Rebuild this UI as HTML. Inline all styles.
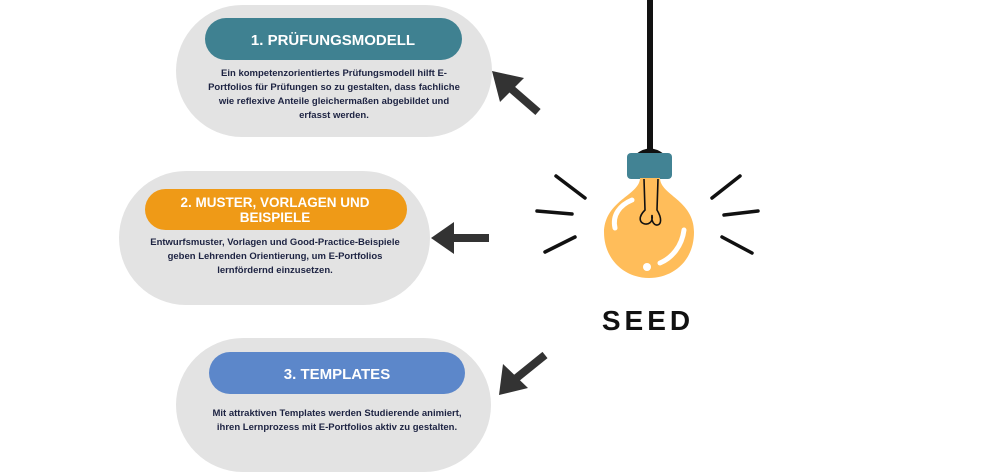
<!DOCTYPE html>
<html><head><meta charset="utf-8"><style>
html,body{margin:0;padding:0;background:#fff;}
svg{display:block;}
.h{font-family:"Liberation Sans",sans-serif;font-weight:bold;fill:#fff;text-anchor:middle;}
.t{font-family:"Liberation Sans",sans-serif;font-weight:bold;fill:#1d2342;text-anchor:middle;font-size:9.5px;}
</style></head><body>
<svg width="1000" height="476" viewBox="0 0 1000 476">
<rect x="176" y="5" width="316" height="132" rx="66" fill="#e3e3e3"/>
<rect x="205" y="18" width="257" height="42" rx="21" fill="#3f8191"/>
<text class="h" x="333" y="45" font-size="15">1.  PRÜFUNGSMODELL</text>
<text class="t" x="334" y="76">Ein kompetenzorientiertes Prüfungsmodell hilft E-</text>
<text class="t" x="334" y="90">Portfolios für Prüfungen so zu gestalten, dass fachliche</text>
<text class="t" x="334" y="104">wie reflexive Anteile gleichermaßen abgebildet und</text>
<text class="t" x="334" y="118">erfasst werden.</text>

<rect x="119" y="171" width="311" height="134" rx="67" fill="#e3e3e3"/>
<rect x="145" y="189" width="262" height="41" rx="20.5" fill="#ef9a17"/>
<text class="h" x="275" y="207" font-size="13.5">2. MUSTER, VORLAGEN UND</text>
<text class="h" x="275" y="222" font-size="13.5">BEISPIELE</text>
<text class="t" x="275" y="245">Entwurfsmuster, Vorlagen und Good-Practice-Beispiele</text>
<text class="t" x="275" y="259">geben Lehrenden Orientierung, um E-Portfolios</text>
<text class="t" x="275" y="273">lernfördernd einzusetzen.</text>

<rect x="176" y="338" width="315" height="134" rx="67" fill="#e3e3e3"/>
<rect x="209" y="352" width="256" height="42" rx="21" fill="#5c87ca"/>
<text class="h" x="337" y="379" font-size="15">3. TEMPLATES</text>
<text class="t" x="337" y="416">Mit attraktiven Templates werden Studierende animiert,</text>
<text class="t" x="337" y="430">ihren Lernprozess mit E-Portfolios aktiv zu gestalten.</text>

<g fill="#333" stroke="#333">
<line x1="538" y1="112" x2="508" y2="86" stroke-width="8"/>
<polygon points="492,71 524,78 500,102" stroke="none"/>
<line x1="489" y1="238" x2="450" y2="238" stroke-width="8"/>
<polygon points="431,238 454,222 454,254" stroke="none"/>
<line x1="545" y1="355" x2="514" y2="380" stroke-width="8"/>
<polygon points="499,395 503,364 528,388" stroke="none"/>
</g>

<line x1="650" y1="0" x2="650" y2="150" stroke="#111" stroke-width="6"/>
<path d="M636 154 Q650 143 664 154 Z" fill="#111"/>
<rect x="627" y="153" width="45" height="26" rx="4" fill="#428394"/>
<path d="M640 178 C640 195 605 200 604 232 C604 260 625 278 649 278 C672 278 694 262 694 232 C694 200 660 195 660 178 Z" fill="#ffbd5a"/>
<path d="M644 179 L645 210 C630 225 655 230 652 215 C650 230 668 228 657 210 L658 179" fill="none" stroke="#111" stroke-width="1.6"/>
<path d="M615 228 C612 215 620 205 632 200" stroke="#fff" stroke-width="5" fill="none" stroke-linecap="round"/>
<path d="M660 263 C672 258 682 246 684 230" stroke="#fff" stroke-width="5" fill="none" stroke-linecap="round"/>
<circle cx="647" cy="267" r="4" fill="#fff"/>
<g stroke="#111" stroke-width="3.5" stroke-linecap="round">
<line x1="556" y1="176" x2="585" y2="198"/>
<line x1="537" y1="211" x2="572" y2="214"/>
<line x1="545" y1="252" x2="575" y2="237"/>
<line x1="740" y1="176" x2="712" y2="198"/>
<line x1="724" y1="215" x2="758" y2="211"/>
<line x1="722" y1="237" x2="752" y2="253"/>
</g>
<text x="648" y="330" text-anchor="middle" font-family="Liberation Sans,sans-serif" font-weight="bold" font-size="28" fill="#111" letter-spacing="4">SEED</text>
</svg>
</body></html>
